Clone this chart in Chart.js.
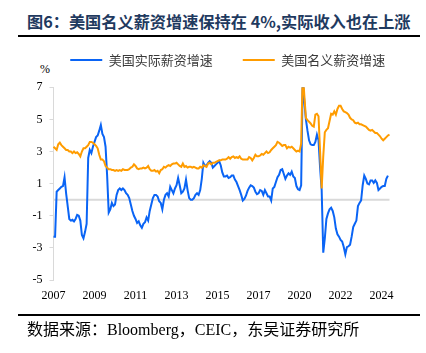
<!DOCTYPE html>
<html>
<head>
<meta charset="utf-8">
<script src="https://cdn.jsdelivr.net/npm/chart.js@4/dist/chart.umd.min.js"></script>
<style>
  body { margin: 0; background: #fff; }
  #wrap { position: relative; width: 426px; height: 353px; overflow: hidden; }
  #title { position: absolute; left: 27px; top: 11px; font: bold 16.2px/20px "Noto Sans CJK SC"; color: #1f3a5f; white-space: nowrap; }
  .rule { position: absolute; left: 18px; width: 402px; height: 2px; background: #000; }
  #unit { position: absolute; left: 40px; top: 62px; font: 12px/14px "Liberation Serif"; color: #000; }
  #src { position: absolute; left: 27px; top: 321px; font: 16px/18px "Liberation Serif", "Noto Sans CJK SC"; color: #000; white-space: nowrap; }
  canvas { position: absolute; left: 0; top: 0; }
</style>
</head>
<body>
<div id="wrap">
  <div id="title">图6：美国名义薪资增速保持在 4%,实际收入也在上涨</div>
  <div class="rule" style="top:35px"></div>
  <div id="unit">%</div>
  <canvas id="wageChart" width="426" height="353"></canvas>
  <div class="rule" style="top:314px"></div>
  <div id="src">数据来源：Bloomberg，CEIC，东吴证券研究所</div>
</div>
<script>
// monthly data from 2007-01
const startYear = 2007;
const tickEvery = 26; // one year label every 26 months

// 美国实际薪资增速 (%)
const realWage = [
  -2.3, -2.3, 0.5, 0.6, 0.7, 0.8, 0.85, 1.4, 0.4, -0.4,
  -1.2, -1.3, -1.25, -1.35, -1.2, -0.95, -1.0, -1.3, -2.2, -2.4,
  -2.0, -1.5, 2.6, 3.1, 2.9, 3.3, 3.6, 3.9, 4.0, 4.3,
  4.65, 4.1, 3.9, 3.3, 1.5, -0.8, -0.6, -0.2, -0.4, -0.3,
  0.3, 0.6, 0.7, 0.6, 0.7, 0.6, 0.4, 0.3, 0.1, -0.3,
  -0.7, -1.0, -1.2, -1.45, -1.35, -1.6, -1.75, -1.5, -1.4, -1.1,
  -1.3, -0.7, -0.3, 0.1, 0.3, 0.3, 0.2, -0.1, -0.2, -0.6,
  0.0, 0.3, 0.4, 0.2, 0.8, 0.6, 0.4, 0.7, 0.9, 1.35,
  0.9, 0.4, 0.5, 0.7, 1.25, 0.6, 0.1, 0.0, 0.0, 0.1,
  0.3, 0.4, 0.3, 0.6, 1.3, 2.3, 2.1, 2.15, 2.3, 2.4,
  2.3, 2.0, 2.1, 2.2, 2.3, 2.4, 2.15, 1.7, 1.45, 1.45,
  1.5, 1.35, 1.4, 1.5, 1.5, 1.25, 1.1, 0.85, 0.6, 0.3,
  -0.05, 0.05, 0.25, 0.55, 0.75, 0.9, 0.85, 0.75, 0.5, 0.35,
  0.4, 0.6, 0.55, 0.3, 0.6, 0.4, 0.2, 0.2, -0.05, 0.7,
  0.8, 1.1, 1.4, 1.55, 1.85, 1.9, 1.6, 1.3, 1.5, 1.65,
  1.55, 1.75, 1.45, 1.35, 0.85, 0.65, 0.6, 0.9, 7.6, 6.1,
  5.0, 4.3, 3.7, 3.45, 3.4, 3.4, 3.6, 4.05, 3.7, 2.0,
  0.6, -3.3, -2.4, -1.2, -0.85, -0.6, -0.5, -0.7, -1.1, -1.8,
  -2.15, -2.3, -2.5, -2.6, -2.95, -3.4, -2.95, -2.9, -2.8, -2.3,
  -1.7, -1.5, -1.3, -0.4, -0.2, -0.05, 0.9, 1.5, 1.3, 1.0,
  0.95, 1.2, 1.2, 1.05, 1.2, 1.05, 0.6, 0.7, 0.8, 0.85,
  0.85, 1.3, 1.5
];

// 美国名义薪资增速 (%)
const nominalWage = [
  3.3, 3.2, 3.1, 3.45, 3.55, 3.4, 3.3, 3.2, 3.1, 3.1,
  3.0, 3.0, 2.9, 3.0, 2.9, 2.95, 2.85, 2.7, 3.0, 3.2,
  3.2, 3.3, 3.4, 3.6, 3.6, 3.55, 3.45, 3.35, 3.2, 2.8,
  2.5, 2.5, 2.4, 2.1, 2.0, 1.9, 1.9, 1.85, 1.85, 1.8,
  1.85, 1.8, 1.85, 1.8, 1.9, 1.85, 1.85, 1.85, 1.9, 2.0,
  2.05, 2.2, 2.1, 1.95, 1.9, 1.95, 1.95, 2.0, 1.95, 2.0,
  2.1, 1.9, 1.8, 1.8, 1.85, 1.75, 1.8, 1.65, 1.85, 1.9,
  2.05, 2.0, 2.1, 2.15, 2.1, 2.2, 2.25, 2.25, 2.3, 2.2,
  2.1, 2.05, 2.25, 2.05, 2.1, 2.0, 2.05, 2.05, 2.0, 2.05,
  2.0, 1.95, 1.95, 2.05, 2.0, 2.15, 2.1, 2.05, 2.25, 2.3,
  2.2, 2.3, 2.3, 2.35, 2.4, 2.45, 2.45, 2.5, 2.5, 2.5,
  2.55, 2.65, 2.55, 2.65, 2.7, 2.6, 2.65, 2.6, 2.7, 2.55,
  2.5, 2.5, 2.5, 2.5, 2.65, 2.6, 2.45, 2.6, 2.8, 2.7,
  2.7, 2.75, 2.85, 2.8, 2.9, 3.0, 2.9, 2.95, 3.1, 3.2,
  3.3, 3.4, 3.6, 3.55, 3.45, 3.35, 3.4, 3.4, 3.2, 3.3,
  3.25, 3.3, 3.2, 3.1, 3.0, 3.05, 3.0, 3.5, 8.0, 6.5,
  5.1, 4.95, 4.85, 4.75, 4.6, 4.55, 5.3, 5.35, 5.2, 3.0,
  0.7, 2.7, 4.2, 4.35, 4.45, 4.9, 5.35, 5.3, 5.5, 5.3,
  5.65, 5.85, 5.85, 5.65, 5.5, 5.45, 5.4, 5.3, 5.1, 5.0,
  4.95, 4.8, 4.75, 4.8, 4.7, 4.7, 4.65, 4.6, 4.55, 4.45,
  4.35, 4.3, 4.35, 4.25, 4.15, 4.15, 4.05, 3.95, 3.8, 3.7,
  3.8, 3.9, 4.0, 4.05
];

const months = nominalWage.map((_, i) => {
  const y = startYear + Math.floor(i / 12);
  const m = (i % 12) + 1;
  return y + "-" + (m < 10 ? "0" + m : m);
});

const axisFont = { family: "Liberation Serif", size: 12 };

// grey line at 0
const zeroLine = {
  id: "zeroLine",
  beforeDatasetsDraw(chart) {
    const { ctx, chartArea, scales } = chart;
    const y = scales.y.getPixelForValue(0);
    ctx.save();
    ctx.strokeStyle = "#d9d9d9";
    ctx.lineWidth = 2;
    ctx.beginPath();
    ctx.moveTo(chartArea.left, y);
    ctx.lineTo(chartArea.right, y);
    ctx.stroke();
    ctx.restore();
  }
};

// legend sizing / placement
const legendPlace = {
  id: "legendPlace",
  beforeInit(chart) {
    const fit = chart.legend.fit;
    chart.legend.fit = function () {
      fit.call(this);
      this.height = 63.8;
    };
  },
  afterLayout(chart) {
    chart.legend.left += 33;
    chart.legend.right += 33;
  }
};

new Chart(document.getElementById("wageChart"), {
  type: "line",
  data: {
    labels: months,
    datasets: [
      {
        label: "美国实际薪资增速",
        data: realWage,
        borderColor: "#0a64f5",
        backgroundColor: "#0a64f5",
        borderWidth: 2,
        pointRadius: 0,
        order: 1
      },
      {
        label: "美国名义薪资增速",
        data: nominalWage,
        borderColor: "#ff9c00",
        backgroundColor: "#ff9c00",
        borderWidth: 2,
        pointRadius: 0,
        order: 0
      }
    ]
  },
  options: {
    responsive: false,
    animation: false,
    devicePixelRatio: 1,
    layout: { padding: { top: 23.5, left: 0, right: 36.5, bottom: 43 } },
    plugins: {
      tooltip: { enabled: false },
      legend: {
        position: "top",
        labels: {
          boxWidth: 32,
          boxHeight: 2,
          padding: 30,
          color: "#3a3a3a",
          font: { family: "Noto Sans CJK SC", size: 13 },
          sort: (a, b) => a.datasetIndex - b.datasetIndex,
          generateLabels(chart) {
            return Chart.defaults.plugins.legend.labels.generateLabels(chart)
              .map(item => ({ ...item, lineWidth: 0 }));
          }
        }
      }
    },
    scales: {
      x: {
        type: "category",
        grid: { display: false, drawTicks: false },
        border: { display: false },
        ticks: {
          autoSkip: false,
          maxRotation: 0,
          padding: 9,
          color: "#000",
          font: axisFont,
          callback: (val, i) => (i % tickEvery === 0 ? months[i].slice(0, 4) : null)
        },
        afterFit: scale => { scale.height = 30; }
      },
      y: {
        min: -5,
        max: 7,
        grid: { drawOnChartArea: false, drawTicks: true, tickLength: 4, color: "#d9d9d9" },
        border: { display: true, color: "#d9d9d9", width: 1 },
        ticks: { stepSize: 2, padding: 7, color: "#000", font: axisFont },
        afterFit: scale => { scale.width = 53.5; }
      }
    }
  },
  plugins: [zeroLine, legendPlace]
});
</script>
</body>
</html>
